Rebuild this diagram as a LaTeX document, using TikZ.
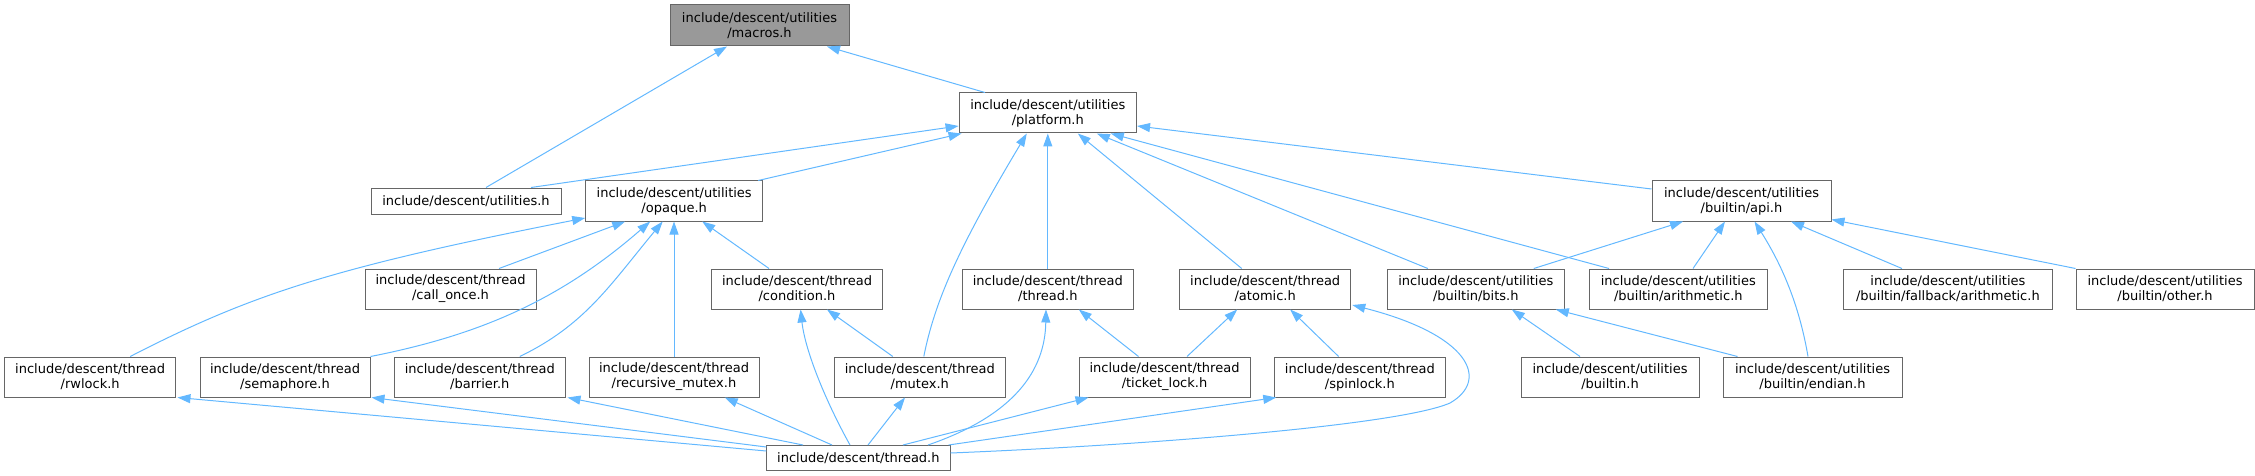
\documentclass[tikz,border=0pt]{standalone}
\usepackage{fontspec}
\setmainfont{DejaVu Sans}
\usetikzlibrary{arrows.meta}
\definecolor{edgeblue}{HTML}{63B8FF}
\definecolor{bordergray}{HTML}{666666}
\definecolor{mainfill}{HTML}{999999}
\tikzset{
  filebox/.style={draw=bordergray, line width=1pt, fill=white, inner sep=0pt,
    minimum height=40pt, align=center, font=\fontsize{13}{15}\selectfont},
  onebox/.style={filebox, minimum height=26pt},
  edge/.style={draw=edgeblue, line width=1pt, -{Triangle[length=13pt,width=9pt]}},
}
\begin{document}
\begin{tikzpicture}[x=1pt,y=-1pt]
\useasboundingbox (0,0) rectangle (2255,476);
% row 0
\node[filebox, fill=mainfill, minimum width=179pt, minimum height=41pt] (macros) at (759.5,25.5) {include/descent/utilities\\/macros.h};
% row 1
\node[filebox, minimum width=177.5pt] (platform) at (1047.8,113) {include/descent/utilities\\/platform.h};
% row 2
\node[onebox, minimum width=190pt] (util) at (466,201) {include/descent/utilities.h};
\node[filebox, minimum width=177pt] (opaque) at (674.2,201) {include/descent/utilities\\/opaque.h};
\node[filebox, minimum width=179pt] (api) at (1741.5,201) {include/descent/utilities\\/builtin/api.h};
% row 3
\node[filebox, minimum width=171pt] (callonce) at (450.5,289) {include/descent/thread\\/call\_once.h};
\node[filebox, minimum width=171pt] (condition) at (797,289) {include/descent/thread\\/condition.h};
\node[filebox, minimum width=170.5pt] (tthread) at (1047.8,289) {include/descent/thread\\/thread.h};
\node[filebox, minimum width=171.2pt] (atomic) at (1265.2,289) {include/descent/thread\\/atomic.h};
\node[filebox, minimum width=177.5pt] (bits) at (1475.8,289) {include/descent/utilities\\/builtin/bits.h};
\node[filebox, minimum width=178.6pt] (barith) at (1678.3,289) {include/descent/utilities\\/builtin/arithmetic.h};
\node[filebox, minimum width=208.3pt] (fallback) at (1947.9,289) {include/descent/utilities\\/builtin/fallback/arithmetic.h};
\node[filebox, minimum width=178pt] (other) at (2165,289) {include/descent/utilities\\/builtin/other.h};
% row 4
\node[filebox, minimum width=170.5pt] (rwlock) at (90.2,377) {include/descent/thread\\/rwlock.h};
\node[filebox, minimum width=170pt] (semaphore) at (285,377) {include/descent/thread\\/semaphore.h};
\node[filebox, minimum width=170.4pt] (barrier) at (479.8,377) {include/descent/thread\\/barrier.h};
\node[filebox, minimum width=170pt] (recursive) at (674,377) {include/descent/thread\\/recursive\_mutex.h};
\node[filebox, minimum width=170.5pt] (mutex) at (919.8,377) {include/descent/thread\\/mutex.h};
\node[filebox, minimum width=171pt] (ticket) at (1164.5,377) {include/descent/thread\\/ticket\_lock.h};
\node[filebox, minimum width=170.3pt] (spinlock) at (1359.9,377) {include/descent/thread\\/spinlock.h};
\node[filebox, minimum width=178pt] (builtin) at (1610,377) {include/descent/utilities\\/builtin.h};
\node[filebox, minimum width=179pt] (endian) at (1812.5,377) {include/descent/utilities\\/builtin/endian.h};
% row 5
\node[onebox, minimum width=183.3pt, minimum height=25pt] (thread) at (858.4,458) {include/descent/thread.h};

% edges to macros
\draw[edge] ([xshift=20pt]util.north) -- ([xshift=-32.5pt]macros.south);
\draw[edge] ([xshift=-62.8pt]platform.north) -- ([xshift=67.5pt]macros.south);
% edges to platform
\draw[edge] ([xshift=65pt]util.north) -- ([yshift=-13pt]platform.west);
\draw[edge] ([xshift=84pt]opaque.north) -- ([xshift=3pt]platform.south west);
\draw[edge] ([xshift=4pt]mutex.north) .. controls (935,300) and (960,245) .. ([xshift=-21pt]platform.south);
\draw[edge] (tthread.north) -- (platform.south);
\draw[edge] ([xshift=-23.5pt]atomic.north) -- ([xshift=30pt]platform.south);
\draw[edge] ([xshift=-48pt]bits.north) -- ([xshift=49pt]platform.south);
\draw[edge] ([xshift=-69.3pt]barith.north) -- ([xshift=63pt]platform.south);
\draw[edge] ([yshift=12pt]api.west) -- ([yshift=-13pt]platform.east);
% edges to opaque
\draw[edge] ([xshift=40pt]rwlock.north) .. controls (250,295) and (330,268) .. ([yshift=-17pt]opaque.west);
\draw[edge] ([xshift=48.5pt]callonce.north) -- ([xshift=-49pt]opaque.south);
\draw[edge] (semaphore.north east) .. controls (480,335) and (560,300) .. ([xshift=-24pt]opaque.south);
\draw[edge] ([xshift=40pt]barrier.north) .. controls (585,325) and (610,285) .. ([xshift=-11.5pt]opaque.south);
\draw[edge] (recursive.north) -- (recursive.north |- opaque.south);
\draw[edge] ([xshift=-28pt]condition.north) -- ([xshift=28pt]opaque.south);
% edges to condition
\draw[edge] ([xshift=-8.4pt]thread.north) .. controls (825,400) and (805,350) .. ([xshift=3.6pt]condition.south);
\draw[edge] ([xshift=-27pt]mutex.north) -- ([xshift=30pt]condition.south);
% edges to thread/thread.h
\draw[edge] ([xshift=69.6pt]thread.north) .. controls (1015,415) and (1045,370) .. ([xshift=-1.8pt]tthread.south);
\draw[edge] ([xshift=-26pt]ticket.north) -- ([xshift=31pt]tthread.south);
% edges to atomic
\draw[edge] ([xshift=22.5pt]ticket.north) -- ([xshift=-28pt]atomic.south);
\draw[edge] ([xshift=-21.3pt]spinlock.north) -- ([xshift=25pt]atomic.south);
\draw[edge] ([yshift=5pt]thread.east) .. controls (1150,445) and (1400,425) .. (1450,403)
  .. controls (1490,380) and (1470,335) .. ([yshift=-16pt,xshift=1pt]atomic.east);
% edges into lower row from thread.h
\draw[edge] ([xshift=9.6pt]thread.north) -- ([xshift=-14.8pt]mutex.south);
\draw[edge] ([xshift=44.6pt]thread.north) -- ([xshift=10pt]ticket.south west);
\draw[edge] ([xshift=-2pt]thread.north east) -- ([xshift=2pt]spinlock.south west);
\draw[edge] ([yshift=7pt]thread.west) -- ([xshift=1.5pt]rwlock.south east);
\draw[edge] ([yshift=11pt]thread.west) -- ([xshift=1pt]semaphore.south east);
\draw[edge] ([xshift=-55.4pt]thread.north) -- ([xshift=2pt]barrier.south east);
\draw[edge] ([xshift=-26.4pt]thread.north) -- ([xshift=50.7pt]recursive.south);
% edges to api
\draw[edge] ([xshift=58pt]bits.north) -- ([xshift=-58.5pt]api.south);
\draw[edge] ([xshift=14.7pt]barith.north) -- ([xshift=-16.5pt]api.south);
\draw[edge] ([xshift=-4.5pt]endian.north) .. controls (1800,310) and (1785,270) .. ([xshift=13pt]api.south);
\draw[edge] ([xshift=-46pt]fallback.north) -- ([xshift=49.5pt]api.south);
\draw[edge] (other.north west) -- ([yshift=2pt]api.south east);
% edges to bits
\draw[edge] ([xshift=-30pt]builtin.north) -- ([xshift=36pt]bits.south);
\draw[edge] ([xshift=-75pt]endian.north) -- ([xshift=80pt]bits.south);
\end{tikzpicture}
\end{document}
